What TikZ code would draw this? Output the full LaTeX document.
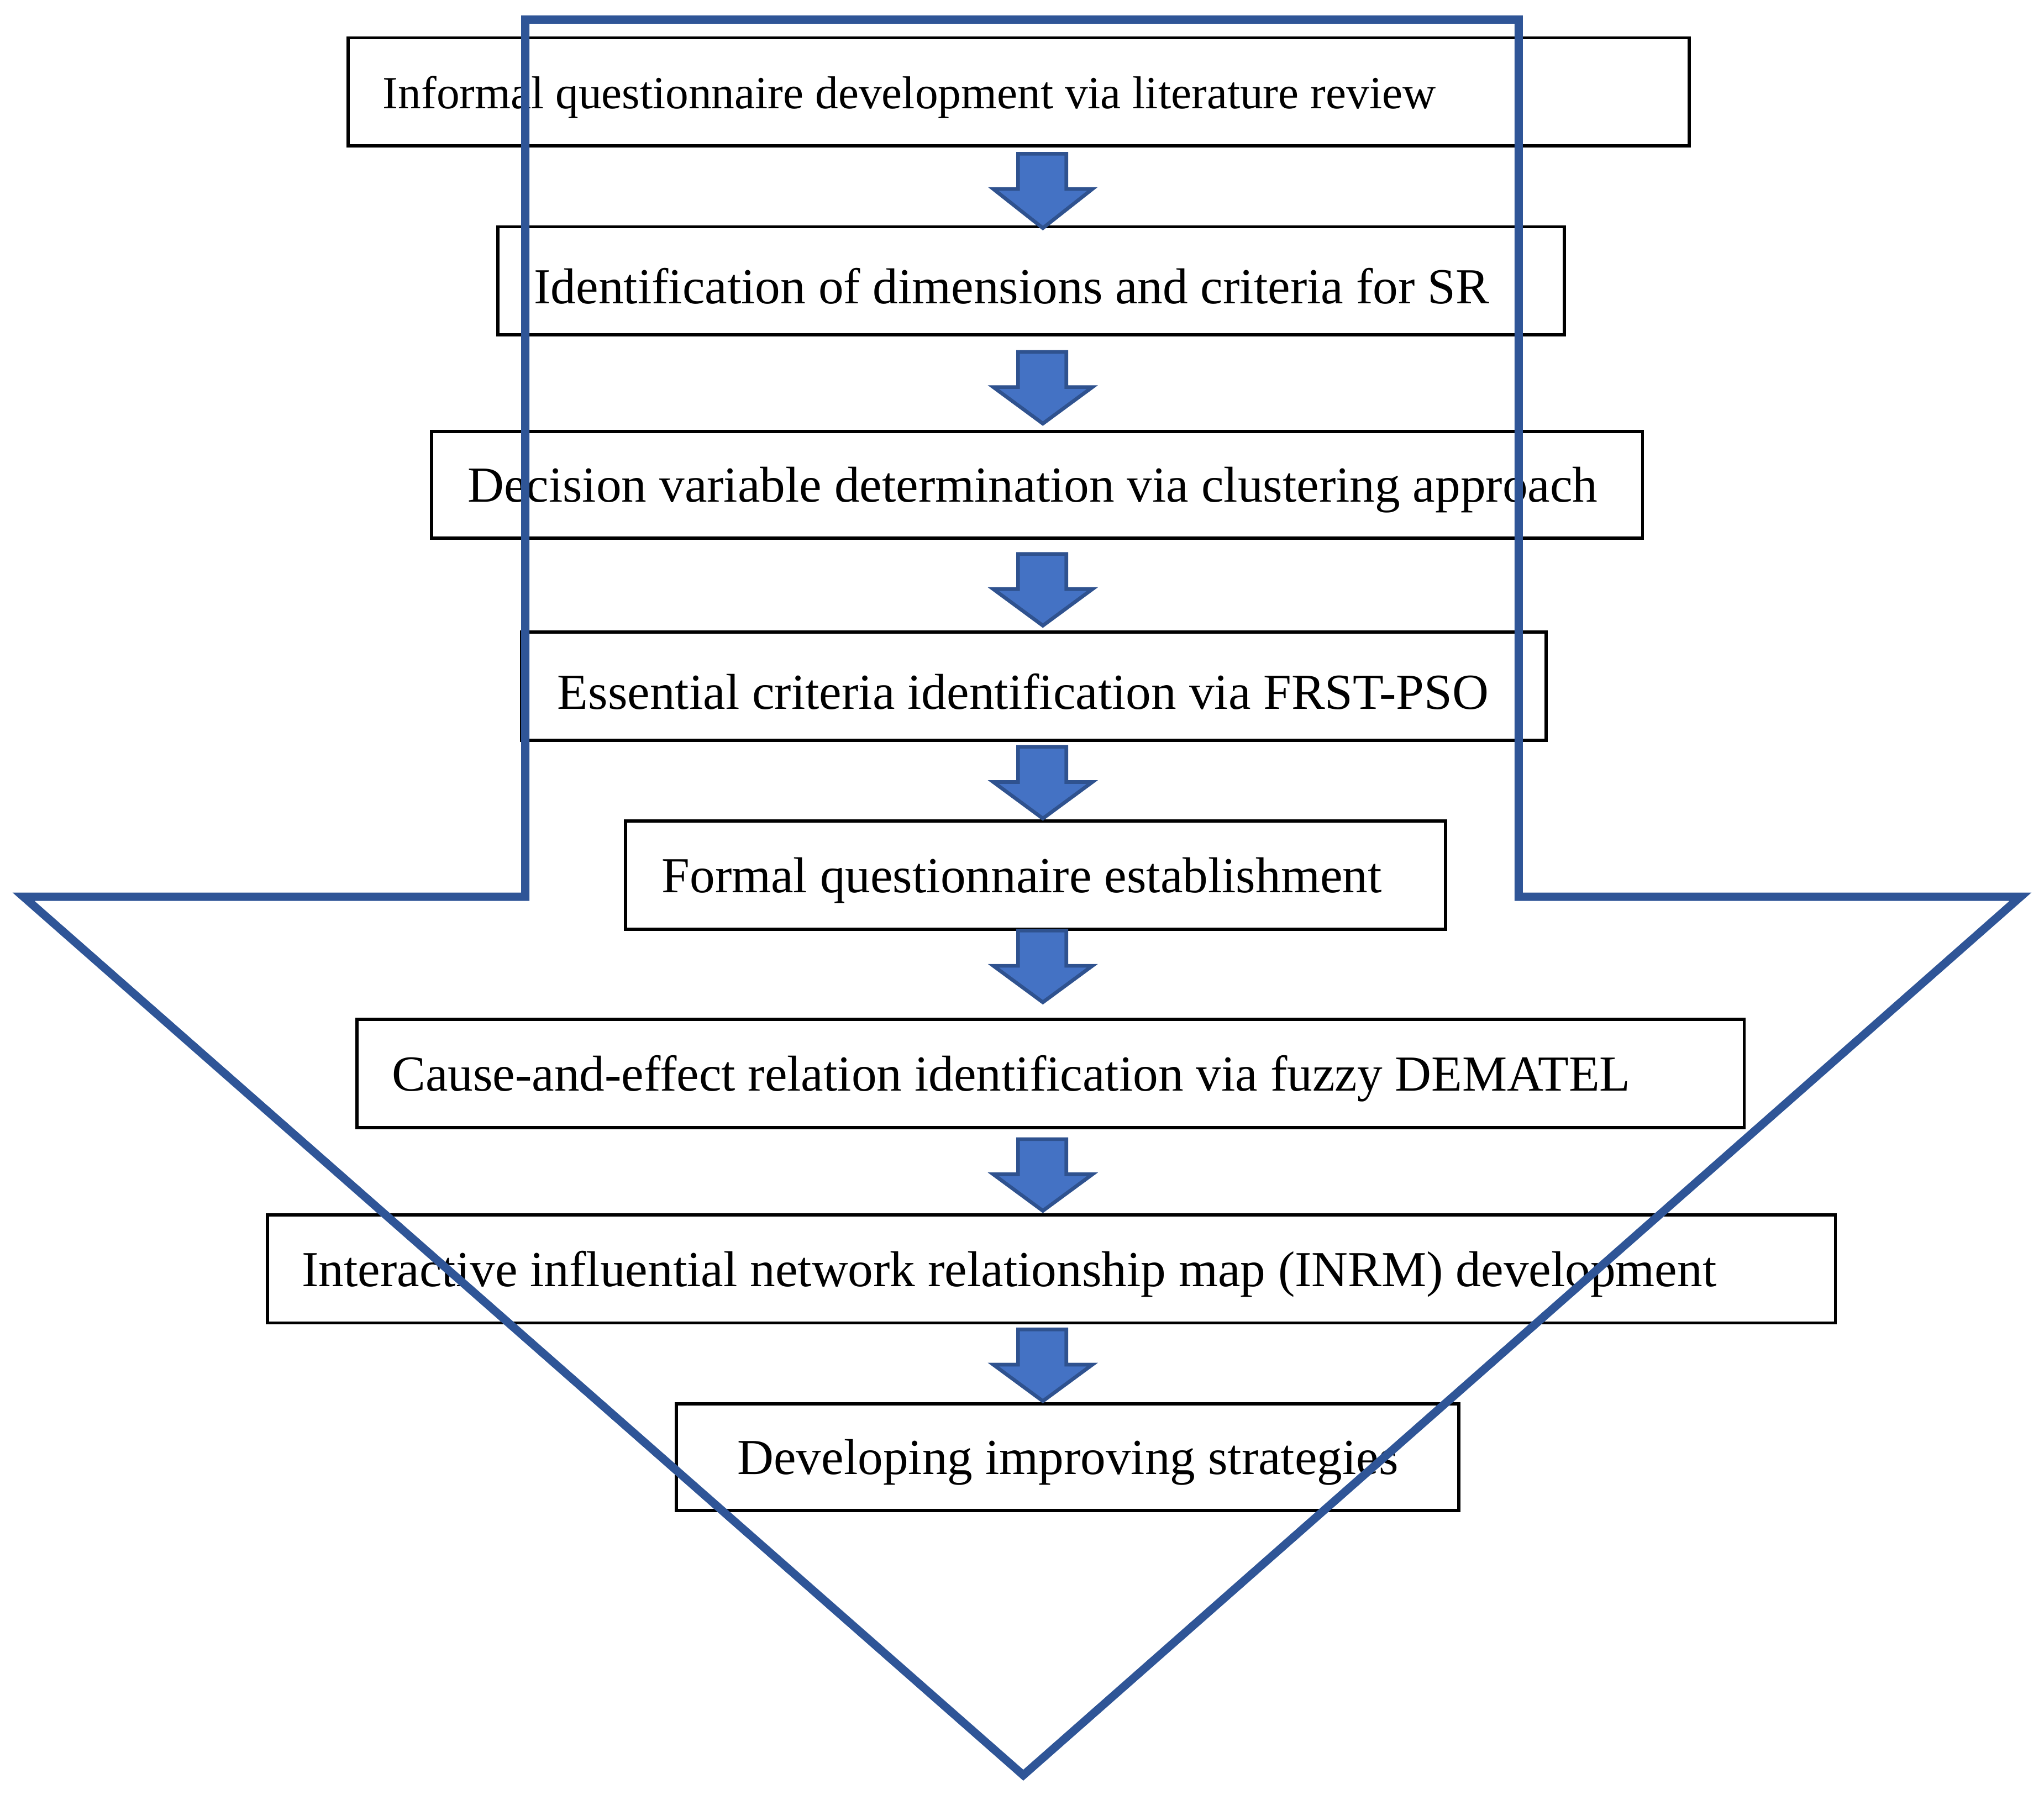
\documentclass[tikz,border=0pt]{standalone}
\usepackage{fontspec}
\setmainfont{Liberation Serif}
\begin{document}
\begin{tikzpicture}[x=0.01cm,y=-0.01cm,
  box/.style={draw=black,line width=0.7pt,fill=white},
  lbl/.style={anchor=west,inner sep=0pt,yshift=-0.04cm,font=\fontsize{11pt}{13pt}\selectfont},
  blk/.style={fill={rgb,255:red,68;green,114;blue,196},draw={rgb,255:red,47;green,82;blue,143},line width=0.8pt},
  big/.style={draw={rgb,255:red,47;green,85;blue,151},line width=1.8pt,line join=miter}]
\useasboundingbox (0,0) rectangle (1568,1381);
\def\bx#1#2#3#4#5#6#7{\draw[box] (#2,#3) rectangle (#4,#5); \node[lbl] (#1) at (#6,{(#3+#5)/2}) {#7};}
\bx{b1}{267}{29}{1296}{112}{293}{\fontsize{10.05pt}{12pt}\selectfont Informal questionnaire development via literature review}
\bx{b2}{382}{174}{1200}{257}{409}{Identification of dimensions and criteria for SR}
\bx{b3}{331}{331}{1260}{413}{358}{Decision variable determination via clustering approach}
\bx{b4}{400}{485}{1186}{568}{427}{Essential criteria identification via FRST-PSO}
\bx{b5}{480}{630}{1109}{713}{507}{Formal questionnaire establishment}
\bx{b6}{274}{782}{1338}{865}{300}{Cause-and-effect relation identification via fuzzy DEMATEL}
\bx{b7}{205}{932}{1408}{1015}{231}{Interactive influential network relationship map (INRM) development}
\bx{b8}{519}{1077}{1119}{1159}{565}{Developing improving strategies}
\foreach \t/\b in {118/175,270/325,425/480,573/628,714/769,874/929,1020/1075}{
  \draw[blk] (781,\t) -- (818,\t) -- (818,{\t+27}) -- (838,{\t+27}) -- (800,\b) -- (762,{\t+27}) -- (781,{\t+27}) -- cycle;}
\draw[big] (403,15) -- (1165,15) -- (1165,688) -- (1550,688) -- (785,1362) -- (18,688) -- (403,688) -- cycle;
\end{tikzpicture}
\end{document}
